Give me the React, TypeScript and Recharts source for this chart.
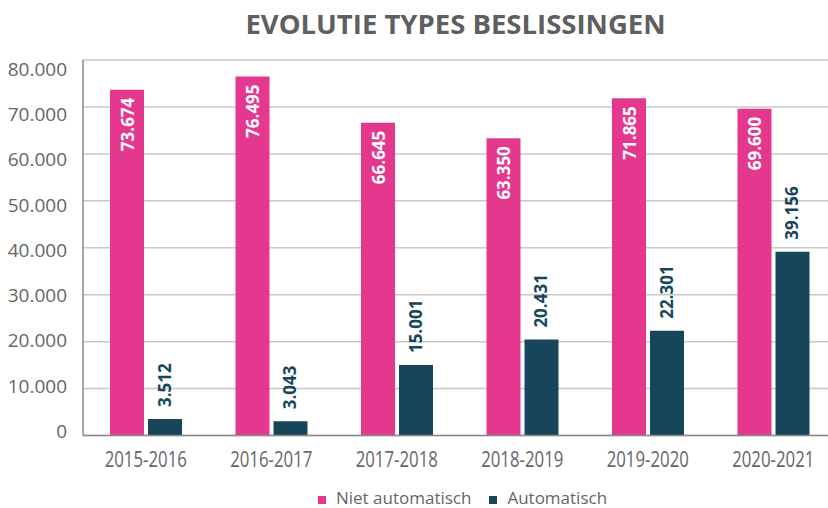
import { BarChart, Bar, XAxis, YAxis, CartesianGrid, Legend, LabelList } from "recharts"

const CATEGORIES = ["2015-2016", "2016-2017", "2017-2018", "2018-2019", "2019-2020", "2020-2021"]
const NIET_AUTOMATISCH = [73674, 76495, 66645, 63350, 71865, 69600]
const AUTOMATISCH = [3512, 3043, 15001, 20431, 22301, 39156]
const Y_TICKS = [0, 10000, 20000, 30000, 40000, 50000, 60000, 70000, 80000]
const SEPARATORS = [1, 2, 3, 4, 5]

const PINK = "#e4388f"
const DARK = "#17455a"
const GREY = "#666666"
const AXIS = "#8a8a8a"
const FONT = "'Open Sans', sans-serif"

const data = CATEGORIES.map((period, i) => ({
  period,
  niet: NIET_AUTOMATISCH[i],
  auto: AUTOMATISCH[i],
}))

const fmt = (v: number) => String(v).replace(/\B(?=(\d{3})+(?!\d))/g, ".")

function YTick({ x, y, payload }: any) {
  // labels in the original sit a bit off their gridlines
  const shift = -4.5 + (13.4 * payload.value) / 80000
  return (
    <text x={x} y={y + shift} textAnchor="end" dominantBaseline="central" fill={GREY} fontSize={19} fontFamily={FONT}>
      {fmt(payload.value)}
    </text>
  )
}

// the source font is condensed, so squeeze Open Sans a little
function XTick({ x, y, payload }: any) {
  return (
    <text transform={`translate(${x},${y}) scale(0.8,1)`} textAnchor="middle" dy="0.71em" fill={GREY} fontSize={21} fontFamily={FONT}>
      {payload.value}
    </text>
  )
}

function InsideLabel({ x, y, width, value }: any) {
  const cx = Number(x) + Number(width) / 2
  return (
    <text transform={`translate(${cx},${Number(y) + 8}) rotate(-90)`} textAnchor="end" dominantBaseline="central" fill="#ffffff" fontSize={17} fontWeight={700} fontFamily={FONT}>
      {fmt(value)}
    </text>
  )
}

function AboveLabel({ x, y, width, value }: any) {
  const cx = Number(x) + Number(width) / 2 - 1
  return (
    <text transform={`translate(${cx},${Number(y) - 12}) rotate(-90)`} textAnchor="start" dominantBaseline="central" fill={DARK} fontSize={17} fontWeight={700} fontFamily={FONT}>
      {fmt(value)}
    </text>
  )
}

function LegendContent() {
  const item = (color: string, label: string, gap: number) => (
    <span style={{ marginLeft: gap }}>
      <span style={{ display: "inline-block", width: 8, height: 8, background: color, marginRight: 10 }} />
      {label}
    </span>
  )
  return (
    <div style={{ height: 24, boxSizing: "border-box", paddingTop: 3, paddingLeft: 89, lineHeight: "21px", textAlign: "center", fontSize: 17, color: GREY, fontFamily: FONT }}>
      {item(PINK, "Niet automatisch", 0)}
      {item(DARK, "Automatisch", 18)}
    </div>
  )
}

export default function App() {
  return (
    <div style={{ position: "absolute", left: 0, top: 0, width: 828, height: 508, overflow: "hidden", background: "#fff" }}>
      <div style={{ position: "absolute", left: 83, width: 745, top: 5, textAlign: "center", fontSize: 27.5, fontWeight: 700, color: "#5f5f5f", fontFamily: FONT, whiteSpace: "nowrap" }}>
        EVOLUTIE TYPES BESLISSINGEN
      </div>
      <BarChart width={836} height={508} data={data} margin={{ top: 60, right: 0, bottom: 0, left: 0 }} barSize={34} barGap={4}>
        <CartesianGrid vertical={false} stroke="#c8c8c8" strokeWidth={1.5} />
        <XAxis
          dataKey="period"
          height={48.5}
          axisLine={{ stroke: AXIS, strokeWidth: 1.5 }}
          tickLine={false}
          tickSize={8}
          tickMargin={9}
          tick={<XTick />}
        />
        <XAxis
          xAxisId="sep"
          type="number"
          domain={[0, 6]}
          ticks={SEPARATORS}
          mirror
          height={0}
          axisLine={false}
          tick={false}
          tickSize={9}
          tickLine={{ stroke: AXIS, strokeWidth: 1.5 }}
        />
        <YAxis
          width={83}
          domain={[0, 80000]}
          ticks={Y_TICKS}
          interval={0}
          axisLine={{ stroke: AXIS, strokeWidth: 1.5 }}
          tickLine={false}
          tickSize={8}
          tickMargin={8}
          tick={<YTick />}
        />
        <Legend verticalAlign="bottom" content={<LegendContent />} />
        <Bar dataKey="niet" name="Niet automatisch" fill={PINK} isAnimationActive={false}>
          <LabelList dataKey="niet" content={<InsideLabel />} />
        </Bar>
        <Bar dataKey="auto" name="Automatisch" fill={DARK} isAnimationActive={false}>
          <LabelList dataKey="auto" content={<AboveLabel />} />
        </Bar>
      </BarChart>
    </div>
  )
}
